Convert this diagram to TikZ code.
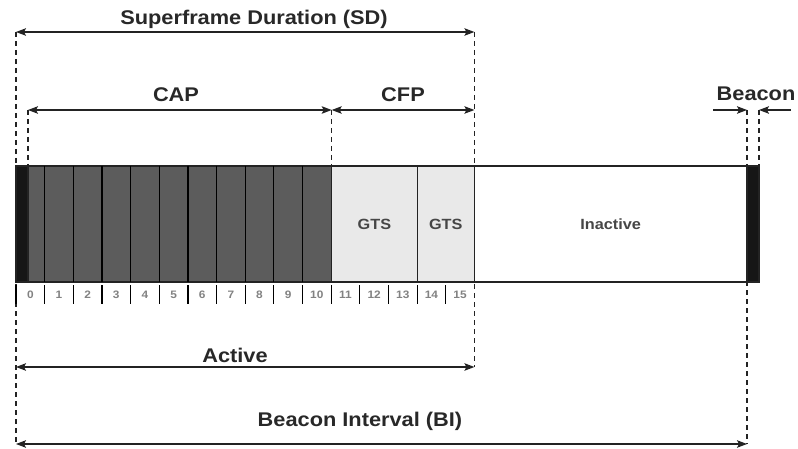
\documentclass[tikz,border=0pt]{standalone}
\usepackage{fontspec}
\setmainfont{Liberation Sans}[FakeStretch=1.1]
\usetikzlibrary{arrows.meta}
\definecolor{txtdark}{RGB}{40,40,40}
\definecolor{txtmid}{RGB}{70,70,70}
\definecolor{txtlight}{RGB}{130,130,130}
\definecolor{capfill}{RGB}{92,92,92}
\definecolor{cfpfill}{RGB}{233,233,233}
\definecolor{beaconfill}{RGB}{22,22,22}
\definecolor{edge}{RGB}{35,35,35}
\tikzset{
  tipstyle/.tip={Stealth[length=10pt,width=7.5pt,inset=2pt]},
  dimarrow/.style={line width=1.2pt, draw=edge, tipstyle-tipstyle},
  onearrow/.style={line width=1.2pt, draw=edge, -tipstyle},
  guide/.style={line width=1.1pt, draw=edge, dash pattern=on 5pt off 4pt},
  biglabel/.style={font=\bfseries\fontsize{19.8}{22}\selectfont, text=txtdark, anchor=base, inner sep=0pt},
  blockbox/.style={draw=edge, line width=1.2pt, inner sep=0pt, outer sep=0pt, minimum height=116pt, anchor=north west},
  blocklabel/.style={font=\bfseries\fontsize{14.8}{16}\selectfont, text=txtmid},
  ticklabel/.style={font=\bfseries\fontsize{10.8}{12}\selectfont, text=txtlight, inner sep=0pt},
  tickline/.style={line width=1.2pt, draw=black}
}
\begin{document}
\begin{tikzpicture}[x=1pt,y=-1pt]
\useasboundingbox (0,0) rectangle (798,449);
% key coordinates
\coordinate (sdL) at (16,32);
\coordinate (sdR) at (474.4,32);
\coordinate (capL) at (28,110);
\coordinate (capR) at (331.7,110);
\coordinate (cfpR) at (474.4,110);
\coordinate (bcnL) at (747,110);
\coordinate (bcnR) at (759,110);
\coordinate (bcnLo) at (713,110);
\coordinate (bcnRo) at (791,110);
\coordinate (actL) at (16,367);
\coordinate (actR) at (474.4,367);
\coordinate (biL) at (16,444);
\coordinate (biR) at (747,444);
\coordinate (capLb) at (28,166);
\coordinate (capRb) at (331.7,166);
\coordinate (bcnRb) at (759,166);
% guide lines
\draw[guide] (sdL) -- (biL);
\draw[guide] (sdR) -- (actR);
\draw[guide] (capL) -- (capLb);
\draw[guide] (capR) -- (capRb);
\draw[guide] (bcnL) -- (biR);
\draw[guide] (bcnR) -- (bcnRb);
% bar blocks
\node[blockbox, fill=capfill, minimum width=315.7pt] (cap) at (16,166) {};
\foreach \k in {1,...,10} {
  \draw[line width=1.2pt, draw=black] ({16+28.65*\k},166) -- ({16+28.65*\k},282);
}
\node[blockbox, fill=beaconfill, minimum width=12pt] (beaconL) at (16,166) {};
\node[blockbox, fill=cfpfill, minimum width=85.4pt] (gtsA) at (331.7,166) {};
\node[blocklabel] (gtsAlbl) at (gtsA.center) {GTS};
\node[blockbox, fill=cfpfill, minimum width=57.3pt] (gtsB) at (417.1,166) {};
\node[blocklabel] (gtsBlbl) at (gtsB.center) {GTS};
\node[blockbox, fill=white, minimum width=272.6pt] (inactive) at (474.4,166) {};
\node[blocklabel] (inactlbl) at (inactive.center) {Inactive};
\node[blockbox, fill=beaconfill, minimum width=12pt] (beaconR) at (747,166) {};
% slot ticks and numbers
\foreach \k in {0,...,15} {
  \draw[tickline] ({16+28.65*\k},285) -- ({16+28.65*\k},304);
  \node[ticklabel] (slot\k) at ({16+28.65*(\k+0.5)},295) {\k};
}
% dimension arrows
\draw[dimarrow] (sdL) -- (sdR);
\draw[dimarrow] (capL) -- (capR);
\draw[dimarrow] (capR) -- (cfpR);
\draw[onearrow] (bcnLo) -- (bcnL);
\draw[onearrow] (bcnRo) -- (bcnR);
\draw[dimarrow] (actL) -- (actR);
\draw[dimarrow] (biL) -- (biR);
% labels
\node[biglabel] (lblSD) at (254,25) {Superframe Duration (SD)};
\node[biglabel] (lblCAP) at (176,102) {CAP};
\node[biglabel] (lblCFP) at (403,102) {CFP};
\node[biglabel] (lblBcn) at (756,101) {Beacon};
\node[biglabel] (lblAct) at (235,362) {Active};
\node[biglabel] (lblBI) at (360,426) {Beacon Interval (BI)};
\end{tikzpicture}
\end{document}
